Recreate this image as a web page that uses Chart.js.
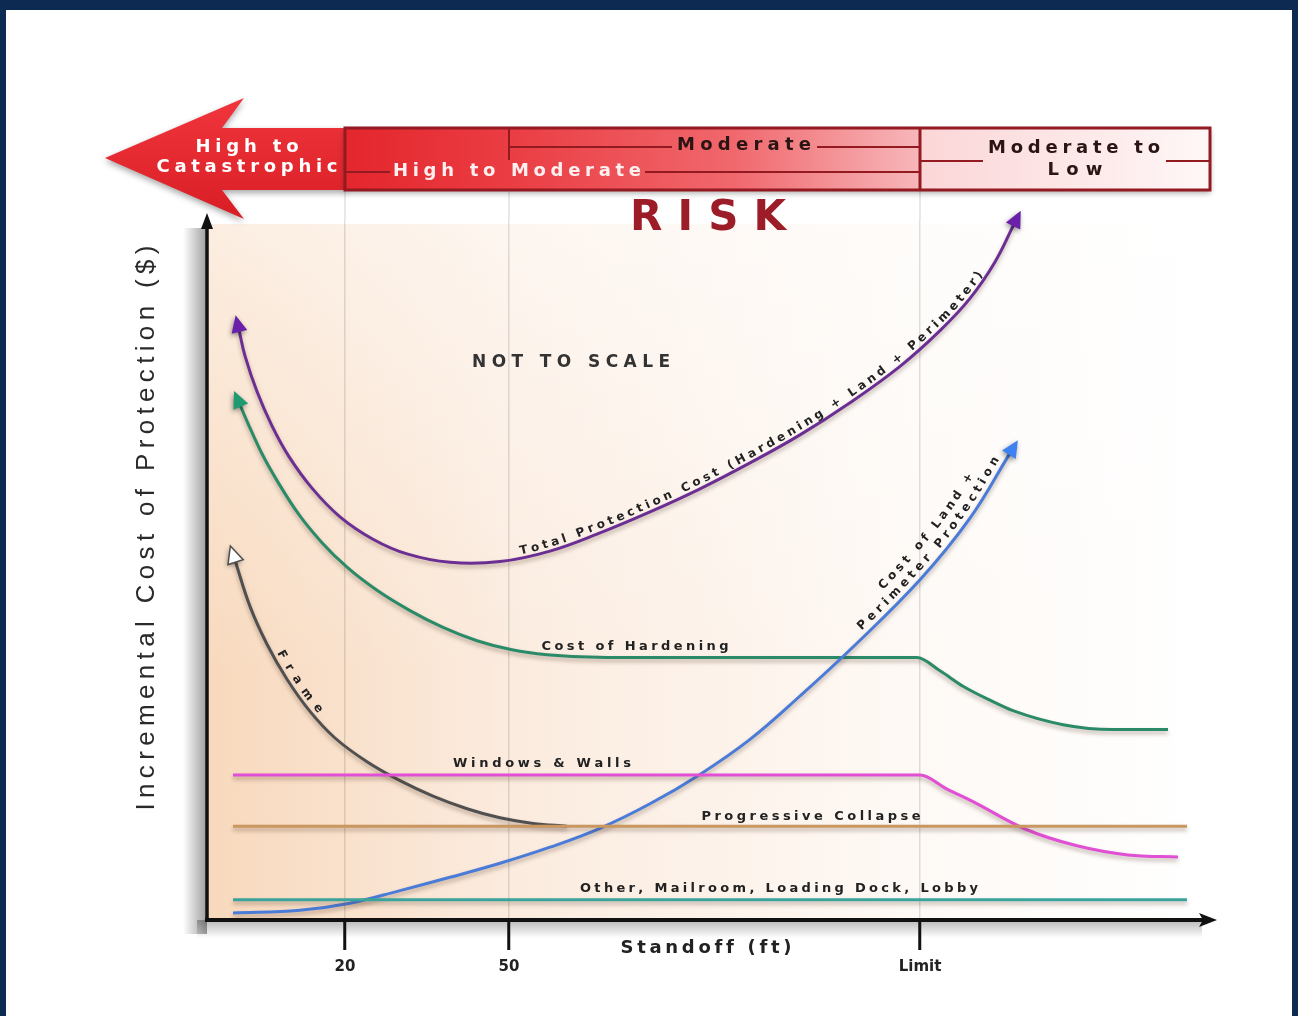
<!DOCTYPE html>
<html>
<head>
<meta charset="utf-8">
<script src="https://cdn.jsdelivr.net/npm/chart.js@4.4.1/dist/chart.umd.min.js"></script>
<style>
html, body { margin: 0; padding: 0; background: #0d2b52; }
#wrap { position: absolute; left: 0; top: 0; width: 1298px; height: 1016px; }
</style>
</head>
<body>
<div id="wrap"><canvas id="risk-chart" width="1298" height="1016"></canvas></div>
<script>
const FONT = '"DejaVu Sans", Verdana, sans-serif';
Chart.defaults.font.family = FONT;

// x axis: not to scale, three marked standoffs
const xTickValues = [13.8, 30.2, 71.3];
const xTickLabels = ['20', '50', 'Limit'];

// Total Protection Cost (Hardening + Land + Perimeter)
const totalX = [3.2, 3.8, 5.0, 6.5, 8.2, 10.5, 13.3, 16.6, 20.0, 24.3, 29.3, 34.3, 39.3, 44.3, 49.3, 54.3, 59.3, 64.3, 69.3, 73.3, 76.3, 78.8, 80.7];
const totalY = [84.3, 80.6, 75.5, 70.6, 66.2, 61.7, 57.6, 54.4, 52.3, 51.1, 51.2, 52.7, 55.3, 58.3, 61.6, 65.3, 69.3, 73.9, 79.1, 84.2, 88.8, 94.0, 99.4];

// Cost of Hardening
const hardeningX = [3.3, 4.2, 5.5, 7.2, 9.2, 11.5, 14.0, 17.0, 20.3, 23.6, 27.0, 30.5, 34.0, 40.0, 50.0, 60.0, 66.0, 71.0, 73.3, 75.6, 78.3, 80.6, 85.6, 90.6, 96.1];
const hardeningY = [73.6, 70.6, 66.6, 62.3, 57.9, 53.9, 50.4, 47.1, 44.2, 41.8, 39.9, 38.6, 37.9, 37.5, 37.5, 37.5, 37.5, 37.5, 35.6, 33.4, 31.4, 29.9, 27.9, 27.2, 27.2];

// Frame
const frameX = [2.8, 4.3, 6.0, 8.0, 10.3, 12.8, 16.0, 19.3, 22.6, 26.0, 29.3, 32.6, 36.0];
const frameY = [51.4, 44.8, 39.4, 34.4, 29.8, 26.0, 22.6, 19.9, 17.7, 15.9, 14.6, 13.8, 13.4];

// Windows & Walls
const windowsX = [2.6, 40.0, 66.0, 71.3, 74.0, 76.6, 81.8, 87.0, 92.1, 97.1];
const windowsY = [20.7, 20.7, 20.7, 20.7, 18.7, 16.9, 13.0, 10.6, 9.3, 9.0];

// Progressive Collapse
const collapseX = [2.6, 98.0];
const collapseY = [13.4, 13.4];

// Other, Mailroom, Loading Dock, Lobby
const otherX = [2.6, 98.0];
const otherY = [2.9, 2.9];

// Cost of Land + Perimeter Protection
const landX = [2.6, 9.3, 14.3, 19.3, 24.3, 29.3, 34.3, 39.3, 44.3, 49.3, 54.3, 59.3, 64.6, 71.3, 76.3, 80.3];
const landY = [1.0, 1.4, 2.4, 4.2, 6.1, 8.1, 10.4, 13.1, 16.6, 20.8, 25.8, 32.0, 39.0, 48.6, 57.4, 66.7];

function toPoints(xs, ys) {
    return xs.map((x, i) => ({x: x, y: ys[i]}));
}

function lineSet(label, xs, ys, color, arrows, mode) {
    return {
        label: label,
        data: toPoints(xs, ys),
        borderColor: color,
        borderWidth: 3,
        pointRadius: 0,
        fill: false,
        tension: 0.4,
        cubicInterpolationMode: mode || 'default',
        arrows: arrows
    };
}

const datasets = [
    lineSet('Other, Mailroom, Loading Dock, Lobby', otherX, otherY, '#3aa39b', {}),
    lineSet('Progressive Collapse', collapseX, collapseY, '#c9975f', {}),
    lineSet('Windows & Walls', windowsX, windowsY, '#e04fd4', {}, 'monotone'),
    lineSet('Frame', frameX, frameY, '#505050', {start: '#ffffff'}),
    lineSet('Cost of Land + Perimeter Protection', landX, landY, '#4a7bd8', {end: '#3c82f0'}),
    lineSet('Cost of Hardening', hardeningX, hardeningY, '#2b8a68', {start: '#1f9a6e'}, 'monotone'),
    lineSet('Total Protection Cost (Hardening + Land + Perimeter)', totalX, totalY, '#6b2f93', {start: '#6a20a8', end: '#6a20a8'})
];

// sample the drawn bezier path of a dataset
function curvePath(chart, idx) {
    const pts = chart.getDatasetMeta(idx).data;
    const out = [];
    for (let i = 0; i < pts.length - 1; i++) {
        const a = pts[i], b = pts[i + 1];
        const c1x = a.cp2x ?? a.x, c1y = a.cp2y ?? a.y;
        const c2x = b.cp1x ?? b.x, c2y = b.cp1y ?? b.y;
        for (let s = 0; s < 24; s++) {
            const t = s / 24, u = 1 - t;
            out.push({
                x: u*u*u*a.x + 3*u*u*t*c1x + 3*u*t*t*c2x + t*t*t*b.x,
                y: u*u*u*a.y + 3*u*u*t*c1y + 3*u*t*t*c2y + t*t*t*b.y
            });
        }
    }
    const last = pts[pts.length - 1];
    out.push({x: last.x, y: last.y});
    return out;
}

function textAlong(ctx, path, text, x0, x1, offset, font, color) {
    const cum = [0];
    for (let i = 1; i < path.length; i++) {
        cum.push(cum[i-1] + Math.hypot(path[i].x - path[i-1].x, path[i].y - path[i-1].y));
    }
    const distAtX = x => {
        for (let i = 0; i < path.length; i++) if (path[i].x >= x) return cum[i];
        return cum[cum.length - 1];
    };
    const pointAt = s => {
        let i = 1;
        while (i < cum.length - 1 && cum[i] < s) i++;
        const a = path[i-1], b = path[i];
        const f = (s - cum[i-1]) / Math.max(cum[i] - cum[i-1], 1e-6);
        return {x: a.x + (b.x - a.x) * f, y: a.y + (b.y - a.y) * f, ang: Math.atan2(b.y - a.y, b.x - a.x)};
    };
    const s0 = distAtX(x0), s1 = distAtX(x1);
    ctx.save();
    ctx.font = font;
    ctx.fillStyle = color;
    ctx.textAlign = 'center';
    ctx.textBaseline = 'alphabetic';
    const chars = [...text];
    const widths = chars.map(ch => ctx.measureText(ch).width);
    const total = widths.reduce((p, w) => p + w, 0);
    const gap = (s1 - s0 - total) / (chars.length - 1);
    let s = s0;
    chars.forEach((ch, i) => {
        const p = pointAt(s + widths[i] / 2);
        const nx = Math.sin(p.ang), ny = -Math.cos(p.ang);
        ctx.save();
        ctx.translate(p.x + nx * offset, p.y + ny * offset);
        ctx.rotate(p.ang);
        ctx.fillText(ch, 0, 0);
        ctx.restore();
        s += widths[i] + gap;
    });
    ctx.restore();
}

// text stretched to a given width, centered on (cx, cy)
function spacedText(ctx, text, cx, cy, width, font, color, angle) {
    ctx.save();
    ctx.font = font;
    ctx.fillStyle = color;
    ctx.textAlign = 'left';
    ctx.textBaseline = 'middle';
    ctx.translate(cx, cy);
    if (angle) ctx.rotate(angle);
    const chars = [...text];
    const widths = chars.map(ch => ctx.measureText(ch).width);
    const total = widths.reduce((p, w) => p + w, 0);
    const gap = (width - total) / (chars.length - 1);
    let x = -width / 2;
    chars.forEach((ch, i) => {
        ctx.fillText(ch, x, 0);
        x += widths[i] + gap;
    });
    ctx.restore();
}

function arrowHead(ctx, p, d, len, half, fill, stroke) {
    const tx = p.x + d.x * len, ty = p.y + d.y * len;
    const nx = -d.y, ny = d.x;
    ctx.save();
    ctx.shadowColor = 'rgba(0,0,0,0.45)';
    ctx.shadowBlur = 5;
    ctx.shadowOffsetX = -1;
    ctx.shadowOffsetY = 2;
    ctx.beginPath();
    ctx.moveTo(tx, ty);
    ctx.lineTo(p.x + nx * half - d.x * 2, p.y + ny * half - d.y * 2);
    ctx.lineTo(p.x - nx * half - d.x * 2, p.y - ny * half - d.y * 2);
    ctx.closePath();
    ctx.fillStyle = fill;
    ctx.fill();
    if (stroke) {
        ctx.shadowColor = 'transparent';
        ctx.strokeStyle = stroke;
        ctx.lineWidth = 1.5;
        ctx.stroke();
    }
    ctx.restore();
}

function unit(x, y) {
    const l = Math.hypot(x, y) || 1;
    return {x: x / l, y: y / l};
}

function drawBanner(ctx) {
    ctx.save();
    // big arrow pointing left
    ctx.shadowColor = 'rgba(0,0,0,0.35)';
    ctx.shadowBlur = 6;
    ctx.shadowOffsetY = 3;
    ctx.beginPath();
    ctx.moveTo(105, 158);
    ctx.lineTo(244, 98);
    ctx.lineTo(222, 128);
    ctx.lineTo(347, 128);
    ctx.lineTo(347, 190);
    ctx.lineTo(222, 190);
    ctx.lineTo(244, 219);
    ctx.closePath();
    let g = ctx.createLinearGradient(0, 98, 0, 219);
    g.addColorStop(0, '#f0363c');
    g.addColorStop(1, '#d91d25');
    ctx.fillStyle = g;
    ctx.fill();
    // box
    g = ctx.createLinearGradient(345, 0, 1210, 0);
    g.addColorStop(0, '#e4262d');
    g.addColorStop(0.19, '#ea3d43');
    g.addColorStop(0.45, '#f0686d');
    g.addColorStop(0.664, '#f7b7ba');
    g.addColorStop(0.666, '#fbd6d7');
    g.addColorStop(1, '#fff7f7');
    ctx.fillStyle = g;
    ctx.fillRect(345, 128, 865, 62);
    ctx.restore();

    ctx.save();
    ctx.strokeStyle = '#941a22';
    ctx.lineWidth = 3;
    ctx.strokeRect(345, 128, 865, 62);
    ctx.lineWidth = 2;
    const seg = (x1, y1, x2, y2) => { ctx.beginPath(); ctx.moveTo(x1, y1); ctx.lineTo(x2, y2); ctx.stroke(); };
    seg(345, 128, 345, 190);
    ctx.lineWidth = 3;
    seg(920, 128, 920, 190);
    ctx.lineWidth = 2;
    seg(509, 128, 509, 160);
    seg(509, 147, 672, 147);
    seg(817, 147, 920, 147);
    seg(345, 172, 390, 172);
    seg(645, 172, 920, 172);
    seg(920, 161, 983, 161);
    seg(1166, 161, 1210, 161);
    ctx.restore();

    const bf = 'bold 18px ' + FONT;
    spacedText(ctx, 'High to', 247, 147, 103, bf, '#ffffff');
    spacedText(ctx, 'Catastrophic', 247, 167, 181, bf, '#ffffff');
    spacedText(ctx, 'High to Moderate', 517, 171, 248, bf, '#fff0f0');
    spacedText(ctx, 'Moderate', 744, 145, 134, bf, '#2a1414');
    spacedText(ctx, 'Moderate to', 1074, 148, 172, bf, '#2a1414');
    spacedText(ctx, 'Low', 1075, 170, 55, bf, '#2a1414');
}

const riskDecor = {
    id: 'riskDecor',
    beforeDraw(chart) {
        const {ctx, chartArea: a} = chart;
        ctx.save();
        ctx.fillStyle = '#0d2b52';
        ctx.fillRect(0, 0, chart.width, chart.height);
        ctx.fillStyle = '#ffffff';
        ctx.fillRect(6, 10, chart.width - 12, chart.height - 10);

        // peach plot background
        let g = ctx.createLinearGradient(a.left, 0, a.right, 0);
        g.addColorStop(0, '#f8d9bd');
        g.addColorStop(0.3, '#fbebde');
        g.addColorStop(0.7, '#fef9f5');
        g.addColorStop(1, '#ffffff');
        ctx.fillStyle = g;
        ctx.fillRect(a.left, a.top + 4, a.right - a.left, a.bottom - a.top - 4);
        g = ctx.createLinearGradient(0, a.top, 0, a.bottom);
        g.addColorStop(0, 'rgba(255,255,255,0.55)');
        g.addColorStop(0.65, 'rgba(255,255,255,0)');
        ctx.fillStyle = g;
        ctx.fillRect(a.left, a.top + 4, a.right - a.left, a.bottom - a.top - 4);

        // shadow left of the y axis and under the x axis
        g = ctx.createLinearGradient(a.left - 24, 0, a.left, 0);
        g.addColorStop(0, 'rgba(0,0,0,0)');
        g.addColorStop(1, 'rgba(0,0,0,0.38)');
        ctx.fillStyle = g;
        ctx.fillRect(a.left - 24, a.top + 8, 24, a.bottom - a.top + 6);
        g = ctx.createLinearGradient(0, a.bottom, 0, a.bottom + 18);
        g.addColorStop(0, 'rgba(0,0,0,0.28)');
        g.addColorStop(1, 'rgba(0,0,0,0)');
        ctx.fillStyle = g;
        ctx.fillRect(a.left - 10, a.bottom, a.right - a.left + 5, 18);
        ctx.restore();
    },
    beforeDatasetsDraw(chart) {
        const {ctx, chartArea: a} = chart;
        const xs = chart.scales.x;
        ctx.save();
        ctx.strokeStyle = 'rgba(0,0,0,0.12)';
        ctx.lineWidth = 1.5;
        xTickValues.forEach(v => {
            const px = xs.getPixelForValue(v);
            ctx.beginPath();
            ctx.moveTo(px, 190);
            ctx.lineTo(px, a.top);
            ctx.stroke();
        });
        ctx.restore();
    },
    beforeDatasetDraw(chart) {
        const ctx = chart.ctx;
        ctx.save();
        ctx.shadowColor = 'rgba(70,40,20,0.35)';
        ctx.shadowBlur = 4;
        ctx.shadowOffsetY = 3;
    },
    afterDatasetDraw(chart) {
        chart.ctx.restore();
    },
    afterDatasetsDraw(chart) {
        const ctx = chart.ctx;
        chart.data.datasets.forEach((ds, i) => {
            const pts = chart.getDatasetMeta(i).data;
            const ar = ds.arrows || {};
            if (ar.start) {
                const p = pts[0];
                const d = unit(p.x - (p.cp2x ?? pts[1].x), p.y - (p.cp2y ?? pts[1].y));
                arrowHead(ctx, p, d, 15, 8, ar.start, ar.start === '#ffffff' ? '#505050' : null);
            }
            if (ar.end) {
                const p = pts[pts.length - 1];
                const q = pts[pts.length - 2];
                const d = unit(p.x - (p.cp1x ?? q.x), p.y - (p.cp1y ?? q.y));
                arrowHead(ctx, p, d, 15, 8, ar.end, null);
            }
        });

        const lbl = 'bold 12px ' + FONT;
        textAlong(ctx, curvePath(chart, 6), 'Total Protection Cost (Hardening + Land + Perimeter)', 520, 986, 4, lbl, '#222');
        textAlong(ctx, curvePath(chart, 4), 'Cost of Land +', 897, 990, 20, lbl, '#222');
        textAlong(ctx, curvePath(chart, 4), 'Perimeter Protection', 864, 1004, 6, lbl, '#222');
        textAlong(ctx, curvePath(chart, 3), 'Frame', 272, 314, 5, lbl, '#222');

        const flat = 'bold 13px ' + FONT;
        spacedText(ctx, 'Cost of Hardening', 635, 647, 187, flat, '#222');
        spacedText(ctx, 'Windows & Walls', 542, 764, 178, flat, '#222');
        spacedText(ctx, 'Progressive Collapse', 811, 817, 219, flat, '#222');
        spacedText(ctx, 'Other, Mailroom, Loading Dock, Lobby', 779, 889, 398, flat, '#222');
    },
    afterDraw(chart) {
        const {ctx, chartArea: a} = chart;
        ctx.save();
        ctx.strokeStyle = '#111';
        ctx.fillStyle = '#111';
        // y axis with arrow
        ctx.lineWidth = 3.5;
        ctx.beginPath();
        ctx.moveTo(a.left, a.bottom + 2);
        ctx.lineTo(a.left, 226);
        ctx.stroke();
        ctx.beginPath();
        ctx.moveTo(a.left, 213);
        ctx.lineTo(a.left - 6, 229);
        ctx.lineTo(a.left + 6, 229);
        ctx.closePath();
        ctx.fill();
        // x axis arrow
        ctx.lineWidth = 4;
        ctx.beginPath();
        ctx.moveTo(a.right - 2, a.bottom);
        ctx.lineTo(1203, a.bottom);
        ctx.stroke();
        ctx.beginPath();
        ctx.moveTo(1217, a.bottom);
        ctx.lineTo(1199, a.bottom - 7);
        ctx.lineTo(1203, a.bottom);
        ctx.lineTo(1199, a.bottom + 7);
        ctx.closePath();
        ctx.fill();
        ctx.restore();

        drawBanner(ctx);

        spacedText(ctx, 'RISK', 708, 219, 156, 'bold 42px ' + FONT, '#9c1c28');
        spacedText(ctx, 'NOT TO SCALE', 571, 363, 198, 'bold 17px ' + FONT, '#333');
        spacedText(ctx, 'Standoff (ft)', 706, 948, 171, 'bold 18px ' + FONT, '#222');
        spacedText(ctx, 'Incremental Cost of Protection ($)', 147, 528, 565, '26px "Liberation Sans", Arial, sans-serif', '#2a2a2a', -Math.PI / 2);
    }
};

const riskChart = new Chart(document.getElementById('risk-chart'), {
    type: 'line',
    data: {datasets: datasets},
    options: {
        responsive: false,
        animation: false,
        devicePixelRatio: 1,
        layout: {padding: {left: 207, right: 91, top: 220, bottom: 36}},
        plugins: {legend: {display: false}, tooltip: {enabled: false}},
        scales: {
            x: {
                type: 'linear',
                min: 0,
                max: 100,
                afterBuildTicks: axis => { axis.ticks = xTickValues.map(v => ({value: v})); },
                afterFit: axis => { axis.height = 60; },
                ticks: {
                    autoSkip: false,
                    maxRotation: 0,
                    padding: 8,
                    color: '#222',
                    font: {size: 15, weight: 'bold'},
                    callback: (v, i) => xTickLabels[i]
                },
                grid: {
                    color: 'rgba(0,0,0,0.12)',
                    lineWidth: 1.5,
                    tickColor: '#111',
                    tickWidth: 3,
                    tickLength: 30
                },
                border: {display: true, color: '#111', width: 4}
            },
            y: {
                type: 'linear',
                min: 0,
                max: 100,
                display: false
            }
        }
    },
    plugins: [riskDecor]
});
</script>
</body>
</html>
